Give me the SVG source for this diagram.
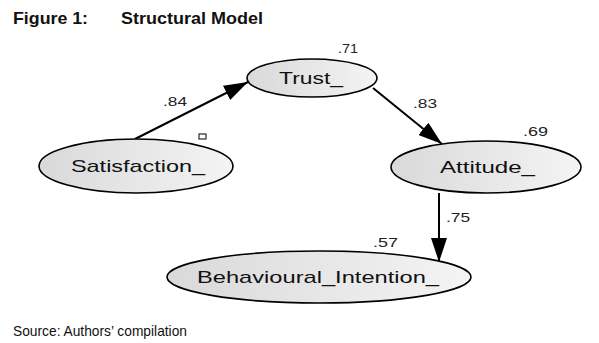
<svg xmlns="http://www.w3.org/2000/svg" width="599" height="343" viewBox="0 0 599 343">
<style>
.t{font-family:"Liberation Sans",Arial,sans-serif;fill:#111}
.title{font-size:17px;font-weight:bold}
.lbl{font-size:17px}
.num{font-size:13.5px;fill:#222}
.node{fill:url(#g);stroke:#000;stroke-width:1.6}
.edge{stroke:#000;stroke-width:2;fill:none;marker-end:url(#ah)}
</style>
<defs>
<linearGradient id="g" x1="0" y1="0" x2="1" y2="0">
<stop offset="0" stop-color="#d9d9d9"/>
<stop offset="1" stop-color="#f4f4f4"/>
</linearGradient>
<marker id="ah" markerUnits="userSpaceOnUse" markerWidth="24" markerHeight="16" viewBox="0 0 24 16" refX="24" refY="8" orient="auto">
<path d="M0,0 L24,8 L0,16 Z" fill="#000"/>
</marker>
</defs>
<rect width="599" height="343" fill="#fff"/>
<text class="t title" x="13" y="24" textLength="75" lengthAdjust="spacingAndGlyphs">Figure 1:</text>
<text class="t title" x="121" y="24" textLength="142" lengthAdjust="spacingAndGlyphs">Structural Model</text>
<g id="connectors">
<line class="edge" x1="135" y1="139" x2="248" y2="82"/>
<line class="edge" x1="373" y1="88" x2="442" y2="144"/>
<line class="edge" x1="439" y1="193" x2="439" y2="262"/>
<text class="t num" x="163" y="106" textLength="24" lengthAdjust="spacingAndGlyphs">.84</text>
<text class="t num" x="413" y="108" textLength="24" lengthAdjust="spacingAndGlyphs">.83</text>
<text class="t num" x="446" y="222" textLength="24" lengthAdjust="spacingAndGlyphs">.75</text>
</g>
<g id="satisfaction">
<ellipse class="node" cx="136" cy="166" rx="97" ry="27"/>
<text class="t lbl" x="71" y="172" textLength="134" lengthAdjust="spacingAndGlyphs">Satisfaction_</text>
<rect x="199" y="134" width="7" height="5" fill="#fff" stroke="#000" stroke-width="1"/>
</g>
<g id="trust">
<ellipse class="node" cx="312" cy="78" rx="65" ry="19"/>
<text class="t lbl" x="279" y="84" textLength="64" lengthAdjust="spacingAndGlyphs">Trust_</text>
<text class="t num" x="338" y="53" textLength="20" lengthAdjust="spacingAndGlyphs">.71</text>
</g>
<g id="attitude">
<ellipse class="node" cx="486" cy="167" rx="95" ry="26"/>
<text class="t lbl" x="440" y="173" textLength="95" lengthAdjust="spacingAndGlyphs">Attitude_</text>
<text class="t num" x="523" y="136" textLength="25" lengthAdjust="spacingAndGlyphs">.69</text>
</g>
<g id="behavioural">
<ellipse class="node" cx="319" cy="277" rx="152" ry="26"/>
<text class="t lbl" x="197" y="283" textLength="242" lengthAdjust="spacingAndGlyphs">Behavioural_Intention_</text>
<text class="t num" x="373" y="247" textLength="25" lengthAdjust="spacingAndGlyphs">.57</text>
</g>
<text class="t" x="13" y="336" font-size="14.5" textLength="174" lengthAdjust="spacingAndGlyphs">Source: Authors’ compilation</text>
</svg>
